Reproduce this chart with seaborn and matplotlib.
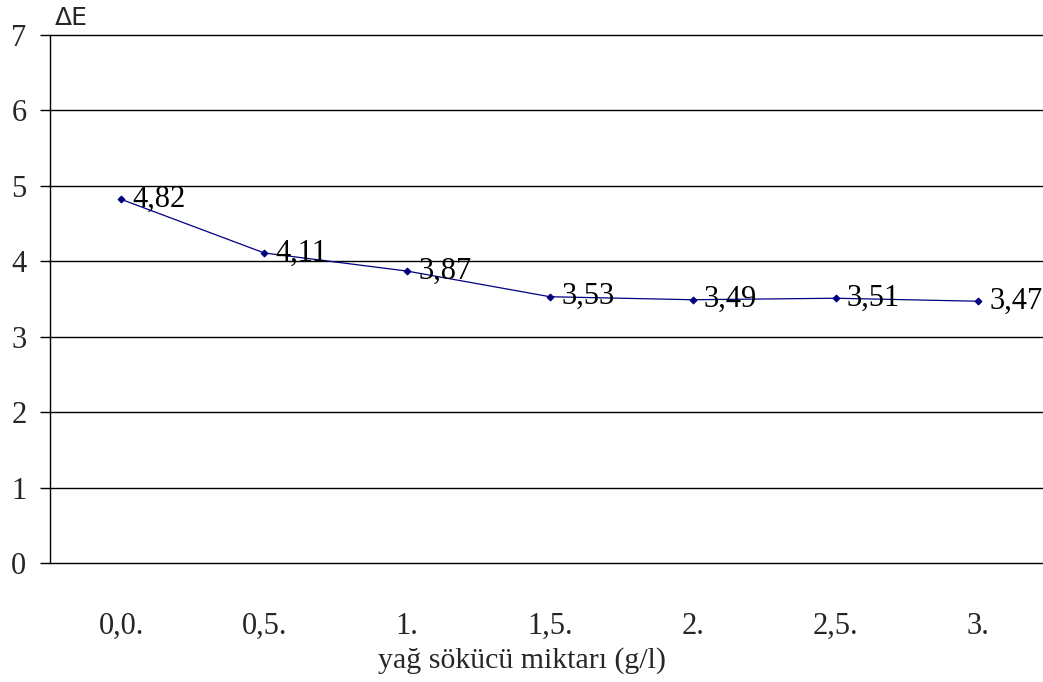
import matplotlib
matplotlib.use("Agg")
import matplotlib.pyplot as plt
import seaborn as sns
import pandas as pd
import numpy as np

# Degreaser amount (g/l) and measured colour difference
categories = ["0,0.", "0,5.", "1.", "1,5.", "2.", "2,5.", "3."]
delta_e = [4.82, 4.11, 3.87, 3.53, 3.49, 3.51, 3.47]
value_labels = ["4,82", "4,11", "3,87", "3,53", "3,49", "3,51", "3,47"]
y_ticks = [0, 1, 2, 3, 4, 5, 6, 7]

sns.set_style("white")
plt.rcParams["font.family"] = ["Liberation Serif", "DejaVu Serif"]

df = pd.DataFrame({"pos": np.arange(len(categories)), "dE": delta_e})

fig = plt.figure(figsize=(10.43, 6.82), dpi=100)
ax = fig.add_axes([0.048, 0.1745, 0.9516, 0.7742])

sns.lineplot(data=df, x="pos", y="dE", ax=ax, color="#000080", linewidth=0.9,
             marker="D", markersize=3.5, markeredgecolor="#000080", zorder=3)

for x, y, lab in zip(df["pos"], df["dE"], value_labels):
    ax.annotate(lab, (x, y), xytext=(8, 0), textcoords="offset points",
                ha="left", va="center", fontsize=22, color="black", zorder=4)

ax.set_xlim(-0.5, 6.45)
ax.set_ylim(0, 7)
ax.set_yticks(y_ticks)
ax.set_yticklabels([str(t) for t in y_ticks], fontsize=22)
ax.set_xticks(df["pos"])
ax.set_xticklabels(categories, fontsize=22)

ax.grid(axis="y", color="black", linewidth=1.0)
ax.grid(axis="x", visible=False)
for line in ax.get_ygridlines():
    line.set_clip_on(False)
for side in ["top", "right", "bottom"]:
    ax.spines[side].set_visible(False)
ax.spines["left"].set_color("black")
ax.spines["left"].set_linewidth(1.0)

ax.tick_params(axis="y", which="both", left=True, length=7, width=1.0,
               color="black", pad=10)
ax.tick_params(axis="x", which="both", bottom=False, pad=32)

ax.set_xlabel("yağ sökücü miktarı (g/l)", fontsize=21.5, va="center")
ax.xaxis.set_label_coords(0.4756, -0.184)
ax.set_ylabel("")

fig.text(0.053, 0.973, "ΔE", fontsize=18, family=["DejaVu Sans"],
         ha="left", va="center")

fig.savefig("out.png", dpi=100)
